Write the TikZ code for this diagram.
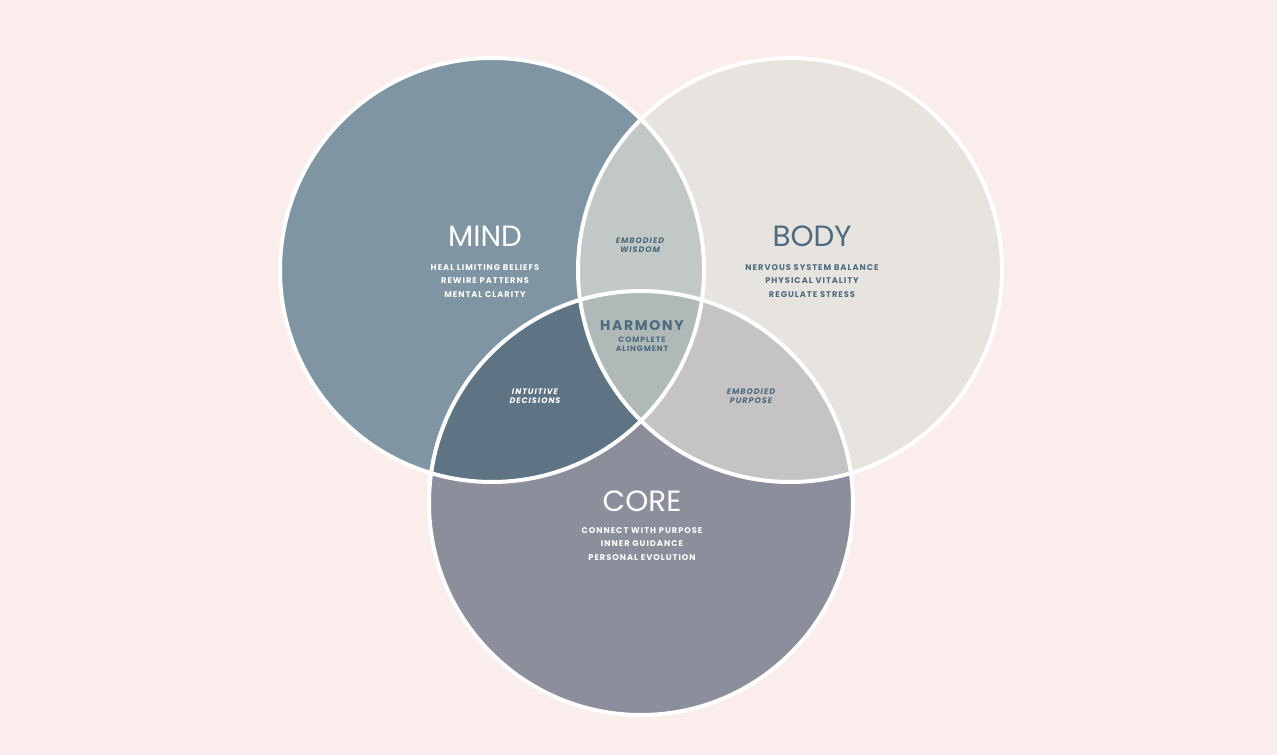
\documentclass[tikz,border=0pt]{standalone}
\usepackage{fontspec}
\setmainfont{Poppins}
\newfontfamily\sm[LetterSpace=12]{Poppins}
\definecolor{bg}{HTML}{FBEDEB}
\definecolor{mindc}{HTML}{7F95A3}
\definecolor{bodyc}{HTML}{E7E3DE}
\definecolor{corec}{HTML}{8C8E9C}
\definecolor{mb}{HTML}{C1C8C6}
\definecolor{mc}{HTML}{5E7484}
\definecolor{bc}{HTML}{C5C3C4}
\definecolor{all}{HTML}{AEB9B8}
\definecolor{dk}{HTML}{4E6A7E}
\begin{document}
\begin{tikzpicture}[x=0.75pt,y=-0.75pt,
 ttl/.style={font=\fontsize{22}{24}\selectfont},
 lst/.style={font=\sm\bfseries\fontsize{6.2}{10.2}\selectfont,align=center},
 sub/.style={font=\sm\bfseries\itshape\fontsize{6}{7}\selectfont,align=center,text=dk}]
\fill[bg] (0,0) rectangle (1277,755);
\useasboundingbox (0,0) rectangle (1277,755);
\def\M{(492,270) circle (212)}
\def\B{(790,270) circle (212)}
\def\C{(641,503) circle (212)}
\fill[mindc] \M; \fill[bodyc] \B; \fill[corec] \C;
\begin{scope}\clip \M; \fill[mb] \B; \fill[mc] \C; \end{scope}
\begin{scope}\clip \B; \fill[bc] \C; \clip \C; \clip \M; \fill[all] \B; \end{scope}
\draw[white,line width=3pt] \M \B \C;
\node[ttl,text=white] (mind) at (485,236) {MIND};
\node[lst,text=white] (ml) at (485,281) {HEAL LIMITING BELIEFS\\REWIRE PATTERNS\\MENTAL CLARITY};
\node[ttl,text=dk] (body) at (812,236) {BODY};
\node[lst,text=dk] (bl) at (812,281) {NERVOUS SYSTEM BALANCE\\PHYSICAL VITALITY\\REGULATE STRESS};
\node[ttl,text=white] (core) at (642,501) {CORE};
\node[lst,text=white] (cl) at (642,544) {CONNECT WITH PURPOSE\\INNER GUIDANCE\\PERSONAL EVOLUTION};
\node[sub] (ew) at (640,245) {EMBODIED\\WISDOM};
\node[sub,text=white] (id) at (535,396) {INTUITIVE\\DECISIONS};
\node[sub] (ep) at (751,396) {EMBODIED\\PURPOSE};
\node[font=\sm\bfseries\fontsize{10.5}{12}\selectfont,text=dk] (h) at (642,326) {HARMONY};
\node[lst,text=dk,font=\sm\bfseries\fontsize{5.8}{6.8}\selectfont] (ca) at (642,344) {COMPLETE\\ALINGMENT};
\end{tikzpicture}
\end{document}
